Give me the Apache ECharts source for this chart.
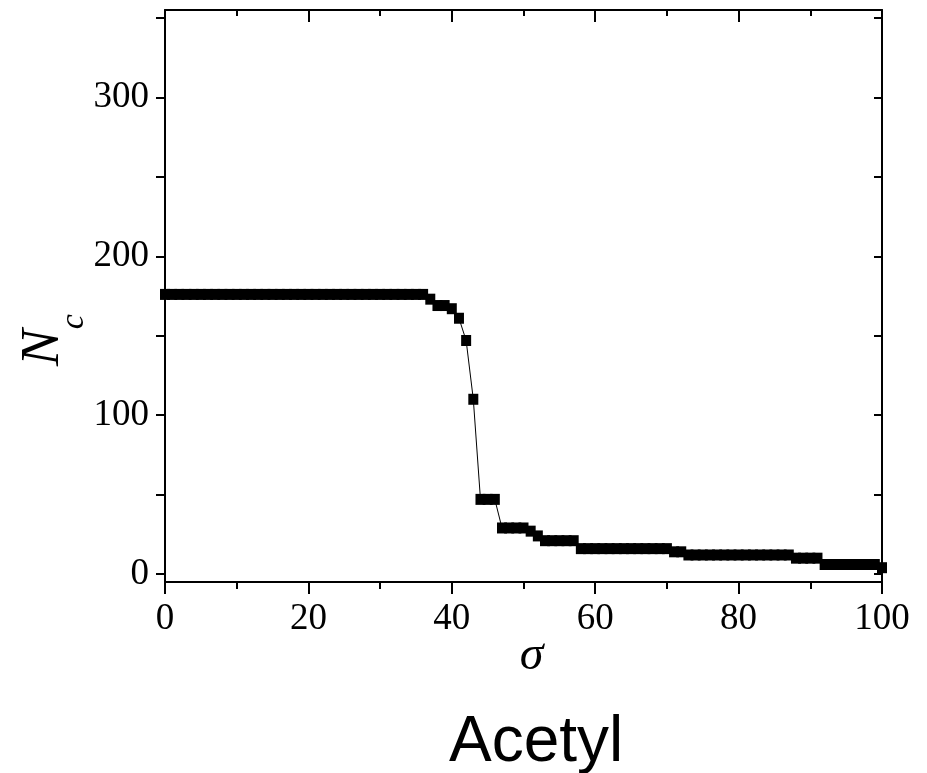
<!DOCTYPE html>
<html>
<head>
<meta charset="utf-8">
<script src="https://cdn.jsdelivr.net/npm/echarts@6/dist/echarts.min.js"></script>
<style>html,body{margin:0;padding:0;background:#fff;}#c{width:927px;height:773px;}</style>
</head>
<body>
<div id="c"></div>
<script>
// sigma values 0..100
const sigma = [];
for (let i = 0; i <= 100; i++) sigma.push(i);
// Nc values
const nc = [
  176,176,176,176,176,176,176,176,176,176,   // 0-9
  176,176,176,176,176,176,176,176,176,176,   // 10-19
  176,176,176,176,176,176,176,176,176,176,   // 20-29
  176,176,176,176,176,176,176,173,169,169,   // 30-39
  167,161,147,110,47,47,47,29,29,29,         // 40-49
  29,27,24,21,21,21,21,21,16,16,             // 50-59
  16,16,16,16,16,16,16,16,16,16,             // 60-69
  16,14,14,12,12,12,12,12,12,12,             // 70-79
  12,12,12,12,12,12,12,12,10,10,             // 80-89
  10,10,6,6,6,6,6,6,6,6,                     // 90-99
  4                                          // 100
];
const yLabelValues = [0, 100, 200, 300];
const yTickValues = [0, 50, 100, 150, 200, 250, 300, 350];
const xTitle = 'σ';
const chartTitle = 'Acetyl';

const points = sigma.map((s, i) => [s, nc[i]]);
const serif = '"Liberation Serif", "Times New Roman", serif';
const lineStyle = { color: '#000', width: 2 };

const chart = echarts.init(document.getElementById('c'), null, { renderer: 'canvas' });
chart.setOption({
  animation: false,
  backgroundColor: '#fff',
  title: {
    text: chartTitle,
    left: 449,
    top: 711,
    padding: 0,
    textStyle: { fontFamily: '"Liberation Sans", Arial, sans-serif', fontSize: 64, fontWeight: 'normal', color: '#000' }
  },
  grid: { left: 165, right: 45, top: 10, bottom: 191, containLabel: false, outerBoundsMode: 'none' },
  xAxis: [{
    type: 'value', min: 0, max: 100, interval: 20, position: 'bottom',
    name: xTitle, nameLocation: 'middle', nameGap: 50, nameMoveOverlap: false,
    nameTextStyle: { fontFamily: serif, fontStyle: 'italic', fontSize: 48, color: '#000', padding: [0, 0, 0, 16] },
    axisLine: { show: true, onZero: false, lineStyle: lineStyle },
    axisTick: { show: true, inside: false, length: 12, lineStyle: lineStyle },
    minorTick: { show: true, splitNumber: 2, length: 7, lineStyle: lineStyle },
    splitLine: { show: false },
    axisLabel: { margin: 19, fontFamily: serif, fontSize: 37, color: '#000' }
  }, {
    type: 'value', min: 0, max: 100, interval: 20, position: 'top',
    axisLine: { show: true, onZero: false, lineStyle: lineStyle },
    axisTick: { show: true, inside: true, length: 12, lineStyle: lineStyle },
    minorTick: { show: true, splitNumber: 2, length: 6, lineStyle: lineStyle },
    splitLine: { show: false },
    axisLabel: { show: false }
  }],
  yAxis: [{
    type: 'value', min: -5, max: 355, position: 'left',
    name: '{n|N}{c|c}', nameLocation: 'middle', nameGap: 74, nameRotate: 90, nameMoveOverlap: false,
    nameTextStyle: {
      rich: {
        n: { fontFamily: serif, fontStyle: 'italic', fontSize: 55, lineHeight: 55, color: '#000', verticalAlign: 'top' },
        c: { fontFamily: serif, fontStyle: 'italic', fontSize: 34, lineHeight: 75, color: '#000', verticalAlign: 'bottom', padding: [0, 88, 0, 0] }
      }
    },
    axisLine: { show: true, onZero: false, lineStyle: lineStyle },
    axisTick: { show: true, inside: false, length: 9, customValues: yTickValues, lineStyle: lineStyle },
    splitLine: { show: false },
    axisLabel: { margin: 16, fontFamily: serif, fontSize: 37, color: '#000', customValues: yLabelValues }
  }, {
    type: 'value', min: -5, max: 355, position: 'right',
    axisLine: { show: true, onZero: false, lineStyle: lineStyle },
    axisTick: { show: true, inside: true, length: 8, customValues: yTickValues, lineStyle: lineStyle },
    splitLine: { show: false },
    axisLabel: { show: false }
  }],
  series: [{
    type: 'line',
    data: points,
    xAxisIndex: 0, yAxisIndex: 0,
    symbol: 'rect',
    symbolSize: [10, 11],
    showSymbol: true,
    itemStyle: { color: '#000' },
    lineStyle: { color: '#000', width: 1 },
    z: 3
  }]
});
</script>
</body>
</html>
